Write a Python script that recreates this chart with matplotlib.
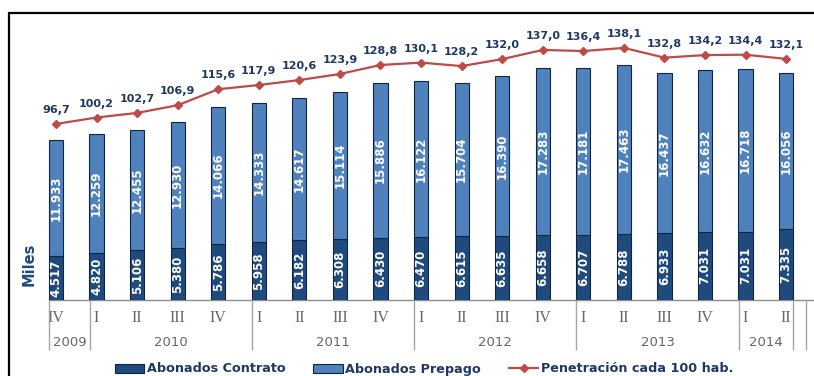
"""
Abonados de telefonía móvil por trimestre y penetración cada 100 habitantes
"""
import matplotlib.pyplot as plt
from matplotlib.patches import Rectangle

quarters = ['IV', 'I', 'II', 'III', 'IV', 'I', 'II', 'III', 'IV', 'I', 'II', 'III', 'IV',
            'I', 'II', 'III', 'IV', 'I', 'II']
years = ['2009', '2010', '2011', '2012', '2013', '2014']
quarters_per_year = [1, 4, 4, 4, 4, 2]

contrato = [4517, 4820, 5106, 5380, 5786, 5958, 6182, 6308, 6430, 6470, 6615, 6635, 6658,
            6707, 6788, 6933, 7031, 7031, 7335]
prepago = [11933, 12259, 12455, 12930, 14066, 14333, 14617, 15114, 15886, 16122, 15704, 16390,
           17283, 17181, 17463, 16437, 16632, 16718, 16056]
penetracion = [96.7, 100.2, 102.7, 106.9, 115.6, 117.9, 120.6, 123.9, 128.8, 130.1, 128.2, 132.0,
               137.0, 136.4, 138.1, 132.8, 134.2, 134.4, 132.1]

colors = {
    'contrato': '#1f4a7e',
    'prepago': '#4f81bd',
    'edge': '#10253f',
    'linea': '#be4b48',
    'texto': '#1f3864',
    'eje': '#666666',
}


def miles(v):
    return f'{v:,}'.replace(',', '.')


def decimal(v):
    return f'{v:.1f}'.replace('.', ',')


fig = plt.figure(figsize=(8.14, 3.76), dpi=100)
W, H = 814, 376
ax = fig.add_axes([35.7 / W, (H - 300) / H, (806 - 35.7) / W, 280 / H])
ax2 = ax.twinx()

x = list(range(len(quarters)))
width = 0.35
bars_c = ax.bar(x, contrato, width, color=colors['contrato'], edgecolor=colors['edge'],
                linewidth=0.8, label='Abonados Contrato', zorder=3)
bars_p = ax.bar(x, prepago, width, bottom=contrato, color=colors['prepago'],
                edgecolor=colors['edge'], linewidth=0.8, label='Abonados Prepago', zorder=3)

for i in x:
    ax.text(i, contrato[i] / 2, miles(contrato[i]), rotation=90, ha='center', va='center',
            color='white', fontsize=8.5, fontweight='bold', zorder=4)
    ax.text(i, contrato[i] + prepago[i] / 2, miles(prepago[i]), rotation=90, ha='center',
            va='center', color='white', fontsize=8.5, fontweight='bold', zorder=4)

line, = ax2.plot(x, penetracion, color=colors['linea'], linewidth=1.6, marker='D',
                 markersize=4.5, label='Penetración cada 100 hab.', zorder=5)
for i in x:
    ax2.annotate(decimal(penetracion[i]), (i, penetracion[i]), xytext=(0, 10),
                 textcoords='offset points', ha='center', va='center',
                 color=colors['texto'], fontsize=8, fontweight='bold')

ax.set_xlim(-0.5, 18.49)
ax.set_ylim(0, 28840)
ax2.set_ylim(0.84, 153.3)
ax.set_zorder(ax2.get_zorder() - 1)
ax2.patch.set_visible(False)
for a in (ax, ax2):
    for s in a.spines.values():
        s.set_visible(False)
    a.set_yticks([])

# eje de categorías: trimestres y años
ax.set_xticks(x, quarters, fontfamily='Liberation Serif', fontsize=11.5, color=colors['eje'])
ax.tick_params(axis='x', length=0, pad=7)

n = len(quarters)
ax.plot([-0.17, 18.7], [0, 0], color='#8c8c8c', linewidth=1, clip_on=False, zorder=2)
starts = [sum(quarters_per_year[:k]) for k in range(len(years))]
edges = [s - 0.17 for s in starts] + [n - 1 + 0.17, 18.49]
trans = ax.get_xaxis_transform()
ax.vlines(edges, -50 / 280, 0, transform=trans, color='#a6a6a6', linewidth=1, clip_on=False)
for k, year in enumerate(years):
    left = edges[k]
    right = edges[k + 1]
    ax.text((left + right) / 2, -42 / 280, year, transform=trans, ha='center', va='center',
            fontsize=9.5, color=colors['eje'])

fig.text(29 / W, (H - 264) / H, 'Miles', rotation=90, ha='center', va='center',
         fontsize=10.5, fontweight='bold', color=colors['contrato'])

fig.legend(handles=[bars_c, bars_p, line], loc='center', bbox_to_anchor=(424 / W, 7 / H),
           ncol=3, frameon=False, handlelength=2.3, handletextpad=0.2, columnspacing=2.2,
           prop={'weight': 'bold', 'size': 9.2}, labelcolor=colors['texto'])

# marco del gráfico
fig.patches.append(Rectangle((9 / W, -0.2), 1.2, 0.2 + (H - 13) / H, transform=fig.transFigure,
                             fill=False, edgecolor='black', linewidth=1.6))

fig.savefig('out.png', dpi=100)
